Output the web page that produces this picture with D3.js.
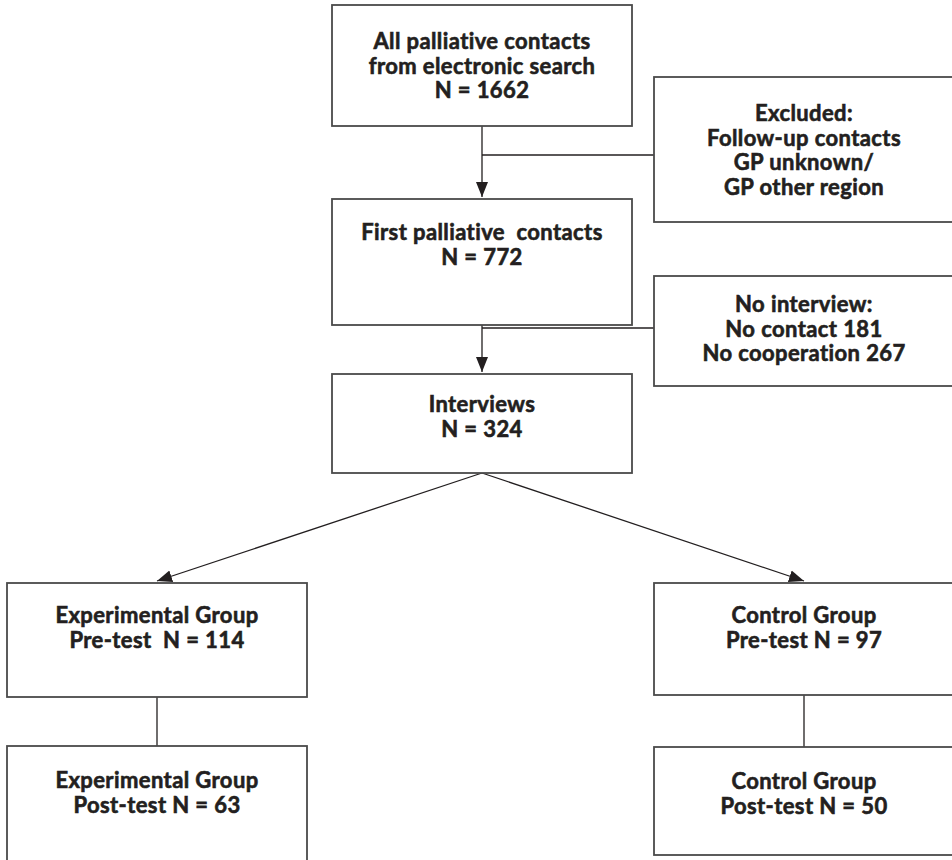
<!DOCTYPE html>
<html lang="en">
    <head>
        <meta charset="utf-8">
        <title>Flow chart</title>
        <script type="text/javascript" src="https://cdnjs.cloudflare.com/ajax/libs/d3/7.8.5/d3.min.js"></script>
        <style type="text/css">
            body { margin: 0; background: #fff; }
            text { font-family: Lato, "Open Sans", sans-serif; font-weight: 700; fill: #231f20;
                   stroke: #231f20; stroke-width: 0.6px; letter-spacing: 0.4px; }
        </style>
    </head>
    <body>
        <script type="text/javascript">
            var w = 952;
            var h = 860;

            // flow steps (text content) and counts
            var nodeIds = ["all", "first", "interviews", "excluded", "noInterview",
                           "expPre", "ctrlPre", "expPost", "ctrlPost"];
            var counts = [1662, 772, 324, null, null, 114, 97, 63, 50];
            var noContact = 181;
            var noCooperation = 267;
            var nodeLines = [
                ["All palliative contacts", "from electronic search", "N = " + counts[0]],
                ["First palliative  contacts", "N = " + counts[1]],
                ["Interviews", "N = " + counts[2]],
                ["Excluded:", "Follow-up contacts", "GP unknown/", "GP other region"],
                ["No interview:", "No contact " + noContact, "No cooperation " + noCooperation],
                ["Experimental Group", "Pre-test  N = " + counts[5]],
                ["Control Group", "Pre-test N = " + counts[6]],
                ["Experimental Group", "Post-test N = " + counts[7]],
                ["Control Group", "Post-test N = " + counts[8]]
            ];

            // layout: which column each box sits in
            var nodeCol = ["mid", "mid", "mid", "right", "right", "left", "right", "left", "right"];

            var boxW = 300;
            var xCol = d3.scaleOrdinal()
                .domain(["left", "mid", "right"])
                .range([7, 332, 654]);
            var yTop = d3.scaleOrdinal()
                .domain(nodeIds)
                .range([5, 199, 374, 77, 276, 583, 583, 746, 747]);
            var boxH = d3.scaleOrdinal()
                .domain(nodeIds)
                .range([121, 126, 99, 145, 110, 114, 112, 130, 108]);
            var firstBase = d3.scaleOrdinal()
                .domain(nodeIds)
                .range([44, 41, 38, 44, 36, 40, 40, 42, 42]);
            var lineGap = 24.5;

            var nodes = nodeIds.map(function(id, i) {
                return { id: id, lines: nodeLines[i], col: nodeCol[i] };
            });
            var byId = {};
            nodes.forEach(function(d) {
                d.x = xCol(d.col);
                d.y = yTop(d.id);
                d.h = boxH(d.id);
                d.cx = d.x + boxW / 2;
                byId[d.id] = d;
            });

            // connectors: [from, to, arrow?]
            var edges = [
                ["all", "first", true],
                ["excluded", "all-first", false],
                ["first", "interviews", true],
                ["noInterview", "first-interviews", false],
                ["interviews", "expPre", true],
                ["interviews", "ctrlPre", true],
                ["expPre", "expPost", false],
                ["ctrlPre", "ctrlPost", false]
            ];

            function edgePoints(e) {
                var a = byId[e[0]];
                if (e[1].indexOf("-") > 0) {
                    // side branch joining the vertical trunk
                    var ends = e[1].split("-");
                    var top = byId[ends[0]];
                    var yy = a.id === "excluded" ? 155 : 328;
                    return [[a.x, yy], [top.cx, yy]];
                }
                var b = byId[e[1]];
                var tipGap = e[2] ? 2 : 0;
                return [[a.cx, a.y + a.h], [b.cx, b.y - tipGap]];
            }

            var svg = d3.select("body")
                        .append("svg")
                        .attr("width", w)
                        .attr("height", h);

            svg.append("defs").append("marker")
                .attr("id", "arrow")
                .attr("markerUnits", "userSpaceOnUse")
                .attr("viewBox", "0 -7 16 14")
                .attr("refX", 15)
                .attr("refY", 0)
                .attr("markerWidth", 16)
                .attr("markerHeight", 14)
                .attr("orient", "auto")
                .append("path")
                .attr("d", "M0,-6L15,0L0,6Z")
                .attr("fill", "#231f20");

            var line = d3.line();

            svg.selectAll("path.edge")
                .data(edges)
                .enter()
                .append("path")
                .attr("class", "edge")
                .attr("d", function(e) { return line(edgePoints(e)); })
                .attr("fill", "none")
                .attr("stroke", "#231f20")
                .attr("stroke-width", 1.3)
                .attr("marker-end", function(e) { return e[2] ? "url(#arrow)" : null; });

            var g = svg.selectAll("g.node")
                .data(nodes)
                .enter()
                .append("g")
                .attr("class", "node");

            g.append("rect")
                .attr("x", function(d) { return d.x; })
                .attr("y", function(d) { return d.y; })
                .attr("width", boxW)
                .attr("height", function(d) { return d.h; })
                .attr("fill", "#fff")
                .attr("stroke", "#4a4a4a")
                .attr("stroke-width", 1.8);

            // one text per box, one tspan per line
            g.append("text")
                .attr("text-anchor", "middle")
                .attr("font-size", "22px")
                .style("white-space", "pre")
                .each(function(d) {
                    d3.select(this).selectAll("tspan")
                        .data(d.lines)
                        .enter()
                        .append("tspan")
                        .attr("x", d.cx)
                        .attr("y", function(t, i) { return d.y + firstBase(d.id) + i * lineGap; })
                        .text(function(t) { return t; });
                });
        </script>
    </body>
</html>
